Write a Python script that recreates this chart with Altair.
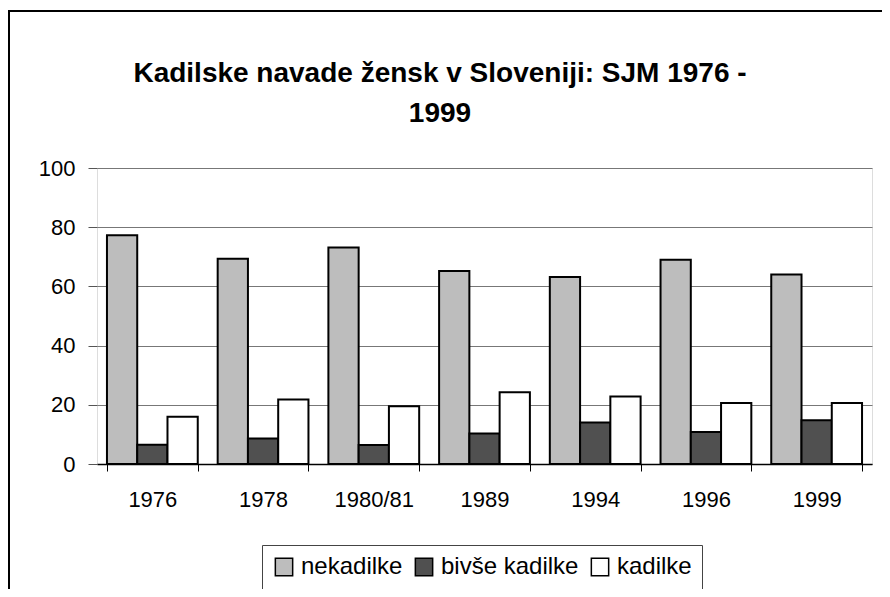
import altair as alt
import pandas as pd

years = ["1976", "1978", "1980/81", "1989", "1994", "1996", "1999"]
series = ["nekadilke", "bivše kadilke", "kadilke"]
nekadilke = [77.3, 69.3, 73.1, 65.2, 63.2, 69.0, 64.0]
bivse = [6.5, 8.6, 6.4, 10.3, 14.0, 10.8, 14.8]
kadilke = [16.0, 21.8, 19.5, 24.2, 22.8, 20.6, 20.6]
colors = ["#bdbdbd", "#505050", "#ffffff"]
y_ticks = [0, 20, 40, 60, 80, 100]
title_text = "Kadilske navade žensk v Sloveniji: SJM 1976 -\n1999"

rows = []
for i, y in enumerate(years):
    for s, vals in zip(series, [nekadilke, bivse, kadilke]):
        rows.append({"year": y, "series": s, "value": vals[i]})
df = pd.DataFrame(rows)

FONT = "Liberation Sans"

bars = alt.Chart(df).mark_bar(stroke="black", strokeWidth=2).encode(
    x=alt.X("year:N", sort=years, title=None,
            scale=alt.Scale(paddingInner=0.18, paddingOuter=0.09),
            axis=alt.Axis(labelAngle=0, tickBand="extent", tickSize=7, tickColor="black",
                          domainColor="black", domainWidth=1.5, labelPadding=18,
                          labelFontSize=22, labelFont=FONT, labelColor="black", grid=False)),
    xOffset=alt.XOffset("series:N", sort=series, scale=alt.Scale(paddingInner=0)),
    y=alt.Y("value:Q", title=None,
            scale=alt.Scale(domain=[0, 100], nice=False),
            axis=alt.Axis(values=y_ticks, tickSize=9, tickColor="#555", domain=False,
                          labelPadding=13, labelFontSize=22, labelFont=FONT, labelColor="black",
                          gridColor="#777", gridWidth=1)),
    fill=alt.Fill("series:N", sort=series,
                  scale=alt.Scale(domain=series, range=colors),
                  legend=alt.Legend(title=None, orient="none", direction="horizontal",
                                    legendX=165, legendY=377, symbolType="square",
                                    symbolSize=300, symbolStrokeColor="black",
                                    symbolStrokeWidth=1.5, labelFontSize=24, labelFont=FONT,
                                    labelColor="black", strokeColor="#444", padding=10,
                                    columnPadding=9, labelOffset=5)),
)

frame = alt.Chart(pd.DataFrame({"a": [0]})).mark_rect(
    fill=None, stroke="black", strokeWidth=2
).encode(
    x=alt.value(-88), x2=alt.value(800), y=alt.value(-157), y2=alt.value(440)
)

title = alt.Chart(pd.DataFrame({"t": [title_text]})).mark_text(
    font=FONT, fontSize=28, fontWeight="bold", color="black",
    align="center", baseline="alphabetic", lineBreak="\n", lineHeight=40
).encode(
    text="t:N", x=alt.value(343), y=alt.value(-86)
)

chart = alt.layer(bars, frame, title).properties(
    width=775, height=296,
    autosize=alt.AutoSizeParams(type="none"),
    padding={"left": 89, "top": 160, "right": 10, "bottom": 125},
).configure_view(
    stroke="#888", strokeDash=[1, 1], strokeWidth=1.5
).configure(background="white")

chart.save("out.html", embed_options={"renderer": "svg", "actions": False})
